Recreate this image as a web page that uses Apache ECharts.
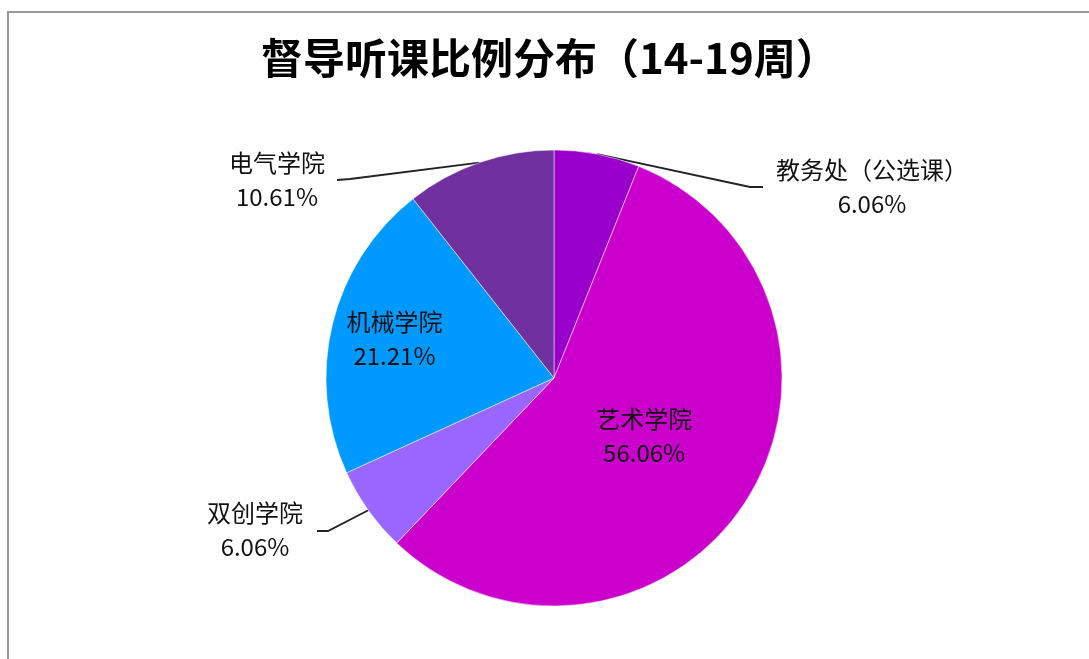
<!DOCTYPE html>
<html>
<head>
<meta charset="utf-8">
<script src="https://cdn.jsdelivr.net/npm/echarts@6/dist/echarts.min.js"></script>
<style>
html,body{margin:0;padding:0;background:#fff;}
#chart{width:1089px;height:659px;}
</style>
</head>
<body>
<div id="chart"></div>
<script>
// ---- data ----
const categories = ['教务处（公选课）', '艺术学院', '双创学院', '机械学院', '电气学院'];
const percents = [6.06, 56.06, 6.06, 21.21, 10.61];
const colors = ['#9900CC', '#CC00CC', '#9966FF', '#0099FF', '#7030A0'];
const titleText = '督导听课比例分布（14-19周）';

// ---- layout (label placement only) ----
const CX = 554, CY = 378, R = 228;
// inside labels: radial fraction; outside labels: label centre + leader bend/end
const labelPlace = [
  { outside: true, pos: [872, 187], bend: [750, 187], end: [763, 187] },
  { outside: false, k: 0.47 },
  { outside: true, pos: [255, 530], bend: [328, 531], end: [317, 531] },
  { outside: false, k: 0.72 },
  { outside: true, pos: [277, 180], bend: [350, 179], end: [337, 180] }
];

const total = percents.reduce((a, b) => a + b, 0);
const midAngles = [];
let acc = 0;
percents.forEach(v => {
  midAngles.push((acc + v / 2) / total * 2 * Math.PI);
  acc += v;
});

const chart = echarts.init(document.getElementById('chart'), null, { renderer: 'canvas' });
chart.setOption({
  backgroundColor: '#fff',
  animation: false,
  title: {
    text: titleText,
    left: 256,
    top: 32,
    textStyle: { fontFamily: '"Noto Sans CJK SC"', fontSize: 42, fontWeight: 'bold', color: '#000' }
  },
  graphic: [{
    type: 'rect',
    shape: { x: 8, y: 12, width: 1200, height: 800 },
    style: { fill: 'none', stroke: '#999', lineWidth: 2 },
    silent: true
  }],
  series: [{
    type: 'pie',
    center: [CX, CY],
    radius: R,
    startAngle: 90,
    clockwise: true,
    avoidLabelOverlap: false,
    itemStyle: { borderColor: 'rgba(255,255,255,0.5)', borderWidth: 1 },
    label: {
      show: true,
      formatter: '{b}\n{d}%',
      fontFamily: '"Noto Sans CJK SC"',
      fontSize: 24,
      lineHeight: 34,
      color: '#111',
      align: 'center'
    },
    labelLine: { show: true, lineStyle: { color: '#222', width: 1.8 }, length: 20, length2: 10 },
    labelLayout: function (params) {
      const i = params.dataIndex;
      const p = labelPlace[i];
      const a = midAngles[i];
      const dx = Math.sin(a), dy = -Math.cos(a);
      if (p.outside) {
        return {
          x: p.pos[0], y: p.pos[1], align: 'center', verticalAlign: 'middle',
          labelLinePoints: [[CX + dx * R, CY + dy * R], p.bend, p.end]
        };
      }
      return {
        x: CX + dx * R * p.k, y: CY + dy * R * p.k, align: 'center', verticalAlign: 'middle'
      };
    },
    data: categories.map((c, i) => ({
      name: c,
      value: percents[i],
      itemStyle: { color: colors[i] },
      labelLine: { show: labelPlace[i].outside }
    }))
  }]
});
</script>
</body>
</html>
